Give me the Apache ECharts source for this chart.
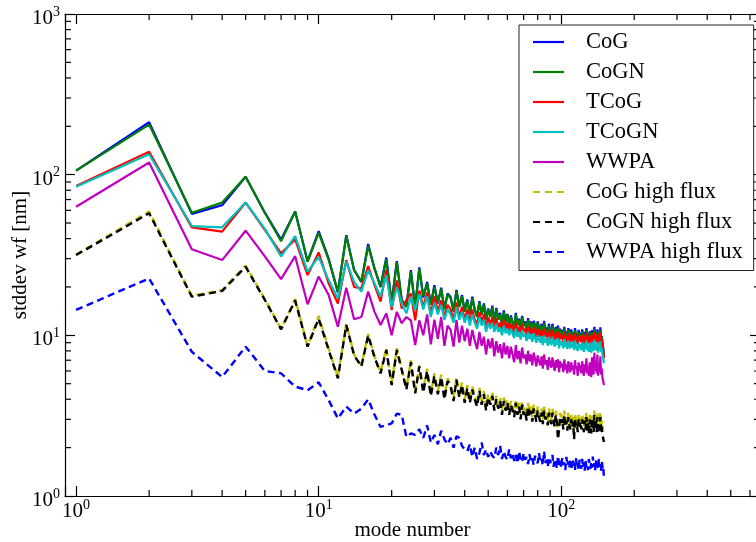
<!DOCTYPE html>
<html>
<head>
<meta charset="utf-8">
<script src="https://cdn.jsdelivr.net/npm/echarts@6/dist/echarts.min.js"></script>
<style>html,body{margin:0;padding:0;background:#fff}#c{width:756px;height:542px}</style>
</head>
<body>
<div id="c"></div>
<script>
// mode numbers 1..150
const modes = Array.from({length:150}, (_, i) => i + 1);

const cog = [106,212,57,64.5,97,58,39.5,59,29,44.5,
30,18.5,42,25.5,21.5,37,26,20,30.5,16,
29,16.5,15.2,25.5,15,26.5,17.2,21.5,15.6,20.5,
15.8,19.8,14.6,18.2,17.3,14.2,19.2,15.1,17.8,14.2,
16.7,13.6,17.4,14.4,13.2,16.3,13.4,15.8,12.7,14.7,
13.1,15.3,12.1,14.8,12.6,13.8,11.6,14.3,12.1,13.6,
11.7,13.3,12.1,11.1,13.8,11.6,12.7,11.2,13.2,11.6,
12.2,10.6,12.8,11.1,12.2,10.6,12.3,11.6,10.7,12.2,
11.2,10.6,11.8,10.1,12.3,10.6,11.2,10.1,11.8,10.6,
10.2,11.8,10.6,9.9,11.3,10.1,11.5,9.7,11,10.1,
10.8,9.6,11.3,9.9,10.6,9.5,11.1,10.1,9.6,10.9,
9.7,10.4,9.4,11.1,9.9,10.2,9.3,10.8,9.7,10.4,
9.5,10.9,9.8,9.3,10.5,9.6,11.1,9.5,10.2,9.3,
10.6,9.7,9.2,10.8,9.9,9.4,11.3,9.7,10.4,9.5,
10.9,9.3,10.2,9.6,11.2,9.4,9.9,8.9,8.3,7.4];

const cogn = [106,205,58,67,97,58,38.5,59,28.7,43.5,
29.5,18.7,41.5,25.5,21.5,36,26,20,29.8,15.8,
28.5,16.6,15,24.9,15,26,17.5,21,15.5,20,
16,19.5,14.5,18,17,14,19,15,17.5,14,
16.5,13.5,17,14.5,13,16,13.5,15.5,12.5,14.5,
13,15,12,14.5,12.5,13.5,11.5,14,12,13.5,
11.5,13,12,11,13.5,11.5,12.5,11,13,11.5,
12,10.5,12.5,11,12,10.5,12,11.5,10.5,12,
11,10.5,11.5,10,12,10.5,11,10,11.5,10.5,
10,11.5,10.5,9.8,11,10,11.2,9.6,10.8,10,
10.6,9.5,11,9.8,10.4,9.4,10.8,10,9.5,10.6,
9.6,10.2,9.3,10.8,9.8,10,9.2,10.5,9.6,10.2,
9.4,10.6,9.7,9.2,10.3,9.5,10.8,9.4,10,9.2,
10.4,9.6,9.1,10.5,9.8,9.3,10.9,9.6,10.2,9.4,
10.6,9.2,10,9.5,10.8,9.3,9.8,8.8,8.2,7.3];

const tcog = [85,139,47,44.2,67,45.4,32.4,39.5,23.7,32.8,
21,15.8,29.4,20,19.6,27,20.5,16.2,25.5,14.4,
22,14.7,16.6,18.2,12.4,19,15,18.5,13.5,17.5,
14,16.5,13,15.5,14.5,12.5,16,13,15,12.5,
14.5,12,14.5,12.5,11.8,14,12,13.5,11.2,13,
11.5,13,11,12.8,11.2,12,10.5,12.5,11,12,
10.5,11.8,10.8,10.2,12,10.5,11.3,10,11.8,10.6,
11,9.8,11.4,10.2,11,9.8,11.2,10.5,9.8,11,
10.2,9.8,10.8,9.4,11,9.8,10.4,9.4,10.8,9.8,
9.5,10.8,9.8,9.2,10.4,9.5,10.6,9.1,10.2,9.5,
10,9.1,10.5,9.3,9.9,9,10.3,9.6,9.1,10.1,
9.2,9.8,8.9,10.3,9.4,9.6,8.8,10,9.2,9.8,
9,10.2,9.3,8.8,9.9,9.1,10.4,9,9.6,8.8,
10,9.2,8.7,10.1,9.4,8.9,10.5,9.2,9.8,9,
10.2,8.8,9.6,9.1,10.4,8.9,9.4,8.5,8,7.2];

const tcogn = [84,134,47.9,47,67,46,31,41.5,24.9,30.8,
22,17,28.7,21.5,18.7,25.5,21,17.4,23.7,15,
20,15.8,13.7,17.4,14.4,18,14.5,17.5,13,16,
13.5,15.5,12.5,14.5,13.5,12,15,12.5,14,12,
13.5,11.5,13.5,12,11,13,11.5,12.5,10.5,12,
11,12,10.5,11.8,10.5,11.2,10,11.5,10.3,11,
10,11,10.2,9.6,11,9.8,10.5,9.4,10.8,9.8,
10.2,9.2,10.5,9.5,10.2,9.1,10.3,9.6,9,10,
9.4,9,9.9,8.7,10,9,9.5,8.6,9.8,9,
8.7,9.8,9,8.5,9.5,8.7,9.6,8.3,9.3,8.7,
9.1,8.3,9.5,8.5,9,8.2,9.3,8.7,8.3,9.1,
8.4,8.9,8.1,9.3,8.5,8.7,8,9,8.3,8.8,
8.1,9.1,8.4,7.9,8.9,8.2,9.3,8.1,8.6,7.9,
9,8.3,7.8,9.1,8.4,8,9.4,8.2,8.8,8,
9.1,7.8,8.6,8.1,9.2,7.9,8.3,7.6,7.2,6.7];

const wwpa = [63.2,119,34.3,29.4,44.8,31,22.4,31.1,15.6,23.2,
17.8,11.3,19.8,12.6,13,18.7,14,11.6,13.7,10,
14,11.9,13,12.4,8.7,12.4,10,13.5,8.8,12.5,
9.5,13,8.6,11.5,10.8,8.5,12.5,9,11.5,9.2,
11,8.6,10.8,9.3,8.2,10.5,8.6,9.8,7.6,9.5,
8.3,9.6,7.4,9.2,7.8,8.8,7.2,9,7.6,8.6,
7.2,8.5,7.6,6.8,8.7,7.1,8,6.7,8.4,7.2,
7.6,6.6,8,6.9,7.6,6.5,7.8,7.1,6.4,7.5,
6.9,6.5,7.4,6.2,7.6,6.6,7,6.1,7.3,6.6,
6.3,7.3,6.5,6,7,6.3,7.1,5.9,6.9,6.3,
6.7,5.9,7.1,6.1,6.6,5.8,6.9,6.3,5.9,6.8,
6.1,6.5,5.7,7,6.2,6.4,5.6,6.8,6,6.5,
5.8,6.9,6.1,5.6,6.6,5.9,7.2,5.8,6.4,5.6,
6.8,6,5.5,7.3,6.2,5.7,7.8,6,6.9,5.8,
7.6,5.6,6.5,5.9,7.4,5.7,6.2,5.4,5.2,4.9];

const cogHf = [31.8,59,17.6,19.1,27.2,16.8,11,16.8,8.6,13.2,
8.3,5.5,11.8,7.6,6.5,10.2,7.4,5.9,8.3,5,
8.3,6.2,4.7,7,4.4,6.5,4.6,6.2,4.3,5.8,
4.5,5.7,4.1,5.4,4.9,4.1,5.5,4.2,5.1,4,
4.9,3.9,4.8,4.2,3.7,4.7,3.9,4.5,3.6,4.3,
3.9,4.4,3.5,4.2,3.7,4.1,3.4,4.1,3.6,4,
3.4,3.9,3.6,3.3,4,3.4,3.8,3.2,3.9,3.4,
3.6,3.1,3.8,3.3,3.6,3.1,3.7,3.4,3.1,3.6,
3.3,3.1,3.5,3,3.6,3.2,3.3,2.9,3.5,3.2,
3,3.5,3.1,2.9,3.4,3,2.4,2.8,3.3,3,
3.2,2.8,3.4,2.9,3.15,2.75,3.3,3,2.8,3.2,
2.9,3.1,2.6,3.25,2.95,3.05,2.7,3.2,2.9,3.1,
2.8,3.2,2.95,2.7,3.15,2.8,3.3,2.75,3.05,2.65,
3.2,2.9,2.65,3.25,2.95,2.7,3.4,2.85,3.1,2.7,
3.3,2.65,3.05,2.8,3.35,2.7,2.95,2.6,2.7,2.9];

const cognHf = [31.6,57.5,17.4,18.9,26.7,16.6,10.9,16.5,8.5,12.7,
8.1,5.4,11.6,7.5,6.4,10,7.3,5.8,8.1,4.9,
8.1,6.1,4.6,6.8,4.35,6.4,4.4,6,4.2,5.6,
4.3,5.5,4,5.2,4.8,3.9,5.3,4.1,4.9,3.8,
4.7,3.8,4.6,4,3.6,4.5,3.7,4.3,3.4,4.1,
3.7,4.2,3.4,4,3.5,3.9,3.2,3.9,3.4,3.8,
3.2,3.7,3.4,3.1,3.8,3.2,3.6,3,3.7,3.2,
3.4,2.95,3.6,3.1,3.4,2.9,3.5,3.2,2.9,3.4,
3.1,2.9,3.3,2.8,3.4,3,3.1,2.75,3.3,3,
2.8,3.3,2.9,2.7,3.2,2.85,2.25,2.6,3.1,2.85,
3,2.6,3.2,2.7,2.95,2.55,3.1,2.8,2.6,3,
2.7,2.9,2.25,3.05,2.75,2.85,2.5,3,2.7,2.9,
2.6,3,2.75,2.5,2.95,2.6,3.1,2.55,2.85,2.45,
3,2.7,2.45,3.05,2.75,2.5,3.2,2.65,2.9,2.5,
3.1,2.45,2.85,2.6,3.1,2.5,2.7,2.4,2.35,2.17];

const wwpaHf = [14.4,22.6,7.9,5.5,8.5,6,5.8,4.8,4.55,5.1,
3.95,3.04,3.6,3.26,3.5,4,3.2,2.69,2.76,2.83,
3.26,3.2,2.33,2.45,2.4,2.6,2.3,2.75,2.15,2.4,
2.1,2.55,2.25,2.1,2.3,2.0,2.35,2.3,2.05,1.95,
1.9,2.1,1.75,2.0,1.7,1.85,2.15,1.8,1.95,1.75,
1.9,1.78,1.72,2.0,1.8,2.05,1.7,1.9,1.75,1.68,
1.95,1.72,1.85,1.65,1.8,1.6,1.9,1.7,1.62,1.85,
1.68,1.75,1.58,1.82,1.64,1.72,1.56,1.78,1.66,1.6,
1.85,1.62,1.7,1.55,1.9,1.6,1.68,1.52,1.75,1.6,
1.58,1.8,1.52,1.7,1.62,1.48,1.78,1.55,1.66,1.5,
1.72,1.56,1.62,1.45,1.75,1.55,1.64,1.48,1.7,1.58,
1.5,1.66,1.55,1.45,1.72,1.52,1.6,1.46,1.68,1.55,
1.48,1.7,1.5,1.62,1.44,1.66,1.52,1.58,1.45,1.7,
1.55,1.48,1.64,1.5,1.76,1.52,1.6,1.45,1.68,1.5,
1.62,1.47,1.7,1.52,1.58,1.44,1.65,1.5,1.55,1.29];

const seriesNames = ['CoG','CoGN','TCoG','TCoGN','WWPA','CoG high flux','CoGN high flux','WWPA high flux'];
const seriesData = [cog, cogn, tcog, tcogn, wwpa, cogHf, cognHf, wwpaHf];
const seriesColors = ['#0000ff','#008000','#ff0000','#00bfbf','#bf00bf','#bfbf00','#000000','#0000ff'];
const seriesDashed = [false,false,false,false,false,true,true,true];

const xMinorTicks = [2,3,4,5,6,7,8,9,20,30,40,50,60,70,80,90,200,300,400,500,600];
const yMinorTicks = [2,3,4,5,6,7,8,9,20,30,40,50,60,70,80,90,200,300,400,500,600,700,800,900];

const X_MIN = 0.9, X_MAX = 660, Y_MIN = 1, Y_MAX = 1000;
const FONT = 'Liberation Serif';

const ICON_SOLID = 'path://M0,0h31v2.2h-31z';
const ICON_DASHED = 'path://M0,0h7v2.2h-7z M12,0h7v2.2h-7z M24,0h7v2.2h-7z';

function powLabel(v){
  const e = Math.log10(v);
  const r = Math.round(e);
  if (Math.abs(e - r) > 1e-6) return '';
  return '{b|10}{s|' + r + '}';
}
const rich = {
  b: {fontFamily: FONT, fontSize: 21, color: '#000', lineHeight: 24, verticalAlign: 'bottom'},
  s: {fontFamily: FONT, fontSize: 14, color: '#000', lineHeight: 14, verticalAlign: 'top'}
};

const axisLineStyle = {show: true, onZero: false, lineStyle: {color: '#000', width: 1.2}};
const majorTick = {show: true, inside: true, length: 10, lineStyle: {color: '#000', width: 1.2}};

const lineSeries = seriesNames.map((name, k) => ({
  name: name,
  type: 'line',
  data: modes.map((n, i) => [n, seriesData[k][i]]),
  xAxisIndex: 0, yAxisIndex: 0,
  symbol: 'none',
  showSymbol: false,
  silent: true,
  lineStyle: {color: seriesColors[k], width: seriesDashed[k] ? 2.4 : 2.2, type: seriesDashed[k] ? [7, 4.5] : 'solid'},
  itemStyle: {color: seriesColors[k]},
  emphasis: {disabled: true},
  z: 2
}));

const tickStyle = {stroke: '#000', lineWidth: 1.2};
const minorX = {
  type: 'custom', silent: true, z: 5, clip: false,
  xAxisIndex: 0, yAxisIndex: 0,
  data: xMinorTicks.map(v => [v, Y_MIN]),
  renderItem: function(params, api){
    const v = api.value(0);
    const b = api.coord([v, Y_MIN]);
    const t = api.coord([v, Y_MAX]);
    return {type: 'group', children: [
      {type: 'line', shape: {x1: b[0], y1: b[1], x2: b[0], y2: b[1] - 6}, style: tickStyle},
      {type: 'line', shape: {x1: t[0], y1: t[1], x2: t[0], y2: t[1] + 6}, style: tickStyle}
    ]};
  }
};
const minorY = {
  type: 'custom', silent: true, z: 5, clip: false,
  xAxisIndex: 0, yAxisIndex: 0,
  data: yMinorTicks.map(v => [1, v]),
  renderItem: function(params, api){
    const v = api.value(1);
    const l = api.coord([X_MIN, v]);
    const r = api.coord([X_MAX, v]);
    return {type: 'group', children: [
      {type: 'line', shape: {x1: l[0], y1: l[1], x2: l[0] + 6, y2: l[1]}, style: tickStyle},
      {type: 'line', shape: {x1: r[0], y1: r[1], x2: r[0] - 6, y2: r[1]}, style: tickStyle}
    ]};
  }
};

const chart = echarts.init(document.getElementById('c'), null, {renderer: 'canvas'});
chart.setOption({
  animation: false,
  backgroundColor: '#fff',
  grid: {left: 65, top: 14, width: 695, height: 482, containLabel: false, outerBoundsMode: 'none'},
  xAxis: [
    {type: 'log', logBase: 10, min: X_MIN, max: X_MAX, position: 'bottom',
     axisLine: axisLineStyle, axisTick: majorTick, splitLine: {show: false}, minorTick: {show: false},
     axisLabel: {show: true, margin: 2, formatter: powLabel, rich: rich, showMinLabel: true, showMaxLabel: true, hideOverlap: false},
     name: 'mode number', nameLocation: 'middle', nameGap: 24, nameMoveOverlap: false,
     nameTextStyle: {fontFamily: FONT, fontSize: 21, color: '#000'}},
    {type: 'log', logBase: 10, min: X_MIN, max: X_MAX, position: 'top',
     axisLine: axisLineStyle, axisTick: majorTick, splitLine: {show: false}, axisLabel: {show: false}}
  ],
  yAxis: [
    {type: 'log', logBase: 10, min: Y_MIN, max: Y_MAX, position: 'left',
     axisLine: axisLineStyle, axisTick: majorTick, splitLine: {show: false}, minorTick: {show: false},
     axisLabel: {show: true, margin: 5, formatter: powLabel, rich: rich, padding: [6, 0, 0, 0], hideOverlap: false},
     name: 'stddev wf [nm]', nameLocation: 'middle', nameGap: 34, nameRotate: 90, nameMoveOverlap: false,
     nameTextStyle: {fontFamily: FONT, fontSize: 21, color: '#000'}},
    {type: 'log', logBase: 10, min: Y_MIN, max: Y_MAX, position: 'right',
     axisLine: axisLineStyle, axisTick: majorTick, splitLine: {show: false}, axisLabel: {show: false}}
  ],
  legend: {
    data: seriesNames.map((name, k) => ({name: name, icon: seriesDashed[k] ? ICON_DASHED : ICON_SOLID})),
    orient: 'vertical',
    left: 519, top: 25,
    itemWidth: 31, itemHeight: 14, itemGap: 7,
    symbolKeepAspect: true,
    padding: [5.5, 11, 7, 14],
    backgroundColor: '#fff',
    borderColor: '#222', borderWidth: 1, borderRadius: 0,
    selectedMode: false,
    textStyle: {fontFamily: FONT, fontSize: 22.5, color: '#000', padding: [0, 0, 0, 17]}
  },
  series: lineSeries.concat([minorX, minorY])
});
</script>
</body>
</html>
